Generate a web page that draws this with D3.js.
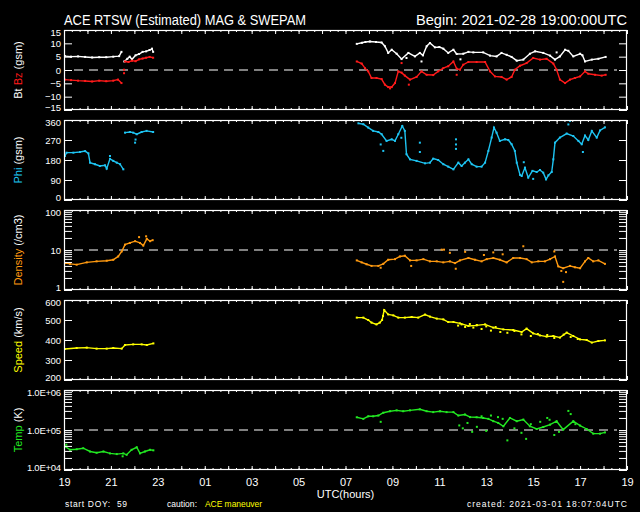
<!DOCTYPE html>
<html>
<head>
<meta charset="utf-8">
<script src="https://cdn.jsdelivr.net/npm/d3@7"></script>
<style>
  body { margin: 0; background: #000; }
  svg { display: block; }
  text { font-family: "Liberation Sans", Arial, sans-serif; fill: #fff; }
</style>
</head>
<body>
<svg id="chart" width="640" height="512"></svg>
<script>
// time is hours after 2021-02-28 19:00 UTC; null breaks a trace
const hourLabels = ["19", "21", "23", "01", "03", "05", "07", "09", "11", "13", "15", "17", "19"];
const btTicks = [-15, -10, -5, 0, 5, 10, 15];
const phiTicks = [0, 90, 180, 270, 360];
const speedTicks = [200, 300, 400, 500, 600];
const densityTicks = [1, 2, 3, 4, 5, 6, 7, 8, 9, 10, 20, 30, 40, 50, 60, 70, 80, 90, 100];
const tempTicks = [1e4, 2e4, 3e4, 4e4, 5e4, 6e4, 7e4, 8e4, 9e4, 1e5, 2e5, 3e5, 4e5, 5e5, 6e5, 7e5, 8e5, 9e5, 1e6];

const btData = [
  [0.04, 5.2], [0.3, 5.0], [0.6, 5.1], [0.9, 4.9], [1.2, 4.7], [1.5, 4.8], [1.8, 4.8], [2.1, 5.0], [2.35, 5.2], [2.45, 6.8], null,
  [2.57, 3.2], [2.7, 4.2], [2.8, 5.0], [2.9, 4.0], [3.05, 5.5], [3.2, 6.0], [3.35, 6.8], [3.5, 7.0], [3.65, 7.5], [3.75, 8.0], [3.8, 6.8], null,
  [12.48, 9.8], [12.7, 10.2], [12.85, 10.5], [13.04, 10.7], [13.3, 10.5], [13.54, 10.3], [13.68, 8.9], [13.82, 6.4], [13.97, 7.6],
  [14.18, 6.1], [14.39, 4.1], [14.68, 6.4], [14.96, 5.1], [15.17, 6.4], [15.3, 5.5], [15.46, 8.9], [15.6, 10.1], [15.81, 8.5],
  [16.0, 8.6], [16.17, 8.0], [16.38, 6.4], [16.6, 7.6], [16.74, 6.0], [17.02, 6.1], [17.24, 6.8], [17.45, 6.6], [17.87, 6.6],
  [18.16, 5.4], [18.44, 5.1], [18.65, 6.4], [18.87, 5.7], [19.08, 4.9], [19.3, 3.5], [19.58, 3.9], [19.86, 6.1], [20.08, 7.0],
  [20.43, 6.4], [20.72, 5.4], [20.93, 3.9], [21.14, 5.1], [21.36, 7.6], [21.5, 7.2], [21.71, 5.1], [22.0, 6.1], [22.1, 5.5],
  [22.21, 3.2], [22.5, 3.9], [22.78, 4.2], [23.09, 4.9]
];
const btScatter = [[15.24, 3.2], [14.6, 4.5], [16.9, 4.0], [21.0, 6.6]];

const bzData = [
  [0.04, -3.6], [0.3, -3.8], [0.6, -4.0], [0.9, -4.1], [1.2, -4.3], [1.5, -4.0], [1.8, -4.2], [2.1, -4.0], [2.3, -3.6], [2.45, -4.9], null,
  [2.6, 3.2], [2.75, 3.0], [2.9, 3.5], [3.05, 3.3], [3.2, 4.0], [3.35, 4.3], [3.5, 4.6], [3.65, 4.9], [3.8, 4.6], null,
  [12.48, 3.2], [12.69, 2.4], [12.83, 0.7], [12.97, -0.5], [13.11, -3.0], [13.32, -3.0], [13.54, -3.4], [13.68, -5.5], [13.82, -6.4],
  [13.97, -6.4], [14.11, -4.9], [14.25, -0.5], [14.39, -1.0], [14.53, -2.1], [14.75, -3.6], [15.03, -2.6], [15.24, -0.5],
  [15.46, -1.8], [15.74, -1.9], [15.95, -0.5], [16.17, 0.7], [16.38, 1.4], [16.6, 3.2], [16.74, 0.5], [16.88, 0.1], [17.02, 2.0],
  [17.24, 3.0], [17.59, 3.0], [17.95, 3.0], [18.16, -0.5], [18.37, -2.4], [18.65, -2.6], [18.87, -3.6], [19.08, -2.6], [19.22, 0.1],
  [19.44, 1.6], [19.72, 2.6], [20.0, 4.5], [20.29, 3.9], [20.57, 4.2], [20.86, 2.4], [21.0, 0.1], [21.14, -3.6], [21.36, -4.9],
  [21.57, -3.6], [21.78, -3.0], [22.0, -2.4], [22.21, -0.5], [22.35, -1.4], [22.64, -1.8], [22.92, -2.1], [23.09, -1.8]
];
const bzScatter = [[2.56, 0.1], [2.56, -1.2], [14.39, 2.6], [16.74, -1.8], [14.7, -5.5], [13.9, -6.9]];

const phiData = [
  [0.04, 198], [0.11, 213], [0.4, 213], [0.68, 216], [0.9, 220], [1.04, 210], [1.11, 168], [1.32, 161], [1.53, 153], [1.75, 156],
  [1.82, 141], [1.96, 185], [2.1, 176], [2.25, 168], [2.39, 161], [2.53, 138], null,
  [2.6, 303], [2.81, 306], [2.95, 303], [3.1, 296], [3.31, 306], [3.52, 311], [3.8, 306], null,
  [12.55, 345], [12.76, 341], [12.97, 326], [13.18, 311], [13.4, 306], [13.54, 296], [13.75, 266], [13.97, 273], [14.11, 266],
  [14.25, 296], [14.42, 333], [14.53, 311], [14.6, 206], [14.75, 183], [15.03, 176], [15.39, 165], [15.6, 168], [15.74, 186],
  [15.95, 180], [16.17, 161], [16.38, 150], [16.6, 138], [16.81, 168], [16.95, 153], [17.09, 168], [17.24, 183], [17.38, 161],
  [17.59, 150], [17.8, 150], [17.95, 168], [18.09, 221], [18.23, 281], [18.33, 326], [18.44, 303], [18.58, 266], [18.8, 273],
  [18.94, 270], [19.08, 251], [19.22, 221], [19.3, 168], [19.44, 113], [19.51, 108], [19.65, 145], [19.79, 101], [19.97, 131],
  [20.15, 126], [20.29, 135], [20.43, 123], [20.55, 93], [20.65, 111], [20.79, 126], [20.86, 183], [20.93, 258], [21.14, 281],
  [21.43, 299], [21.71, 288], [21.93, 266], [22.07, 251], [22.21, 290], [22.35, 270], [22.5, 311], [22.71, 281], [22.85, 313],
  [23.06, 327]
];
const phiScatter = [
  [1.96, 198], [3.03, 258], [3.05, 272], [13.61, 221], [13.5, 250], [14.38, 280], [15.17, 216], [15.17, 258],
  [16.71, 273], [16.71, 250], [16.71, 230], [21.57, 356], [21.5, 340], [22.12, 216], [19.6, 170], [20.0, 95]
];

const densityData = [
  [0.04, 4.7], [0.26, 4.5], [0.54, 4.3], [0.97, 4.9], [1.39, 5.2], [1.82, 5.4], [2.1, 5.7], [2.31, 6.9], [2.46, 9.2],
  [2.6, 13.6], [2.81, 15], [3.03, 16.6], [3.24, 15], [3.38, 12.9], [3.53, 19], [3.67, 16.6], [3.78, 17.6], null,
  [12.48, 5.5], [12.69, 4.9], [12.9, 4.4], [13.11, 4.0], [13.4, 4.0], [13.61, 4.5], [13.82, 5.7], [14.11, 5.9], [14.32, 6.9],
  [14.53, 7.2], [14.75, 5.5], [15.03, 5.5], [15.32, 5.9], [15.6, 5.2], [15.89, 5.2], [16.17, 4.9], [16.45, 5.2], [16.67, 4.7],
  [16.88, 5.5], [17.24, 6.3], [17.52, 5.7], [17.8, 5.2], [18.02, 5.9], [18.3, 6.3], [18.58, 5.7], [18.87, 4.9], [19.15, 6.3],
  [19.44, 6.3], [19.72, 5.9], [19.94, 4.9], [20.22, 5.2], [20.5, 5.2], [20.72, 5.9], [20.93, 6.9], [21.07, 3.9], [21.28, 3.5],
  [21.57, 4.0], [21.78, 3.7], [22.0, 3.5], [22.21, 5.2], [22.35, 6.3], [22.56, 5.2], [22.78, 5.5], [23.06, 4.5]
];
const densityScatter = [
  [3.2, 21], [3.5, 22], [16.1, 10.2], [16.2, 10.2], [16.45, 8.5], [17.1, 9], [18.3, 8.7], [19.58, 12.4], [20.9, 9.2],
  [21.2, 3.0], [21.28, 1.6], [21.4, 2.8], [16.7, 3.4], [14.8, 4.0], [13.5, 3.6], [17.9, 7.5], [18.7, 7.8]
];

const speedData = [
  [0.04, 355], [0.54, 360], [0.97, 362], [1.39, 357], [1.82, 357], [2.1, 360], [2.46, 357], [2.6, 375], [2.95, 378],
  [3.31, 378], [3.53, 375], [3.81, 383], null,
  [12.48, 512], [12.76, 512], [12.97, 500], [13.11, 487], [13.32, 478], [13.46, 487], [13.56, 500], [13.65, 550], [13.82, 528],
  [14.04, 523], [14.25, 512], [14.53, 512], [14.82, 515], [15.1, 512], [15.39, 527], [15.6, 517], [15.89, 507], [16.17, 503],
  [16.38, 490], [16.6, 490], [16.88, 483], [17.24, 470], [17.59, 473], [17.95, 478], [18.3, 462], [18.73, 453], [19.15, 450],
  [19.51, 440], [19.72, 457], [20.0, 433], [20.29, 423], [20.57, 417], [20.86, 420], [21.14, 412], [21.43, 437], [21.71, 420],
  [22.0, 403], [22.28, 400], [22.5, 387], [22.78, 395], [23.06, 398]
];
const speedScatter = [
  [13.6, 520], [16.8, 472], [16.95, 478], [17.1, 465], [17.3, 480], [17.45, 462], [17.6, 475], [17.8, 455], [18.0, 468],
  [18.2, 447], [18.4, 465], [18.6, 440], [18.9, 436], [19.2, 445], [19.5, 428], [19.9, 420], [20.2, 430], [20.6, 425],
  [20.9, 410], [21.3, 427], [21.6, 415], [21.9, 405]
];

const tempData = [
  [0.04, 3.9e4], [0.26, 3.2e4], [0.54, 3.3e4], [0.82, 3.5e4], [1.11, 2.9e4], [1.39, 2.7e4], [1.68, 2.9e4], [1.96, 2.6e4],
  [2.25, 2.5e4], [2.53, 2.6e4], [2.67, 2.4e4], [2.88, 3.2e4], [3.1, 3.7e4], [3.24, 2.6e4], [3.45, 2.9e4], [3.67, 3.2e4],
  [3.81, 3.1e4], null,
  [12.48, 2.08e5], [12.76, 1.9e5], [12.97, 2.2e5], [13.18, 2.2e5], [13.4, 2.3e5], [13.61, 2.7e5], [13.9, 2.95e5], [14.18, 3.1e5],
  [14.46, 2.95e5], [14.75, 3.1e5], [15.17, 3.3e5], [15.46, 2.95e5], [15.74, 2.8e5], [16.03, 2.95e5], [16.31, 2.8e5],
  [16.6, 2.8e5], [16.81, 2.3e5], [17.09, 2.44e5], [17.31, 2.1e5], [17.59, 2.08e5], [17.87, 2.0e5], [18.09, 1.9e5],
  [18.3, 1.66e5], [18.51, 1.5e5], [18.73, 1.24e5], [19.01, 2.0e5], [19.3, 1.66e5], [19.58, 1.82e5], [19.86, 1.24e5],
  [20.15, 1.06e5], [20.43, 1.19e5], [20.72, 1.36e5], [21.0, 1.66e5], [21.28, 1.02e5], [21.71, 1.66e5], [22.0, 1.29e5],
  [22.28, 1.06e5], [22.56, 8.1e4], [22.85, 8.1e4], [23.06, 8.7e4]
];
const tempScatter = [
  [0.1, 4.3e4], [2.5, 2.2e4], [13.5, 1.6e5], [16.85, 1.3e5], [17.0, 1.1e5], [17.2, 1.5e5], [17.4, 9e4], [17.6, 1.2e5],
  [17.8, 2.2e5], [18.0, 9.5e4], [18.2, 2.3e5], [18.5, 2.1e5], [18.7, 1.9e5], [18.9, 5.5e4], [19.2, 1.1e5], [19.5, 8.5e4],
  [19.7, 6e4], [19.9, 1.4e5], [20.3, 1.6e5], [20.6, 2e5], [20.7, 1.8e5], [20.9, 7.5e4], [21.1, 9e4], [21.5, 3e5],
  [21.6, 2.5e5], [21.8, 1.4e5]
];

const svg = d3.select("#chart");
svg.append("rect").attr("width", 640).attr("height", 512).attr("fill", "#000");

const x = d3.scaleLinear().domain([0, 24]).range([64, 627]);
const panelH = 80;
const tickFont = "9.5px";

const panels = [
  { top: 30, y: d3.scaleLinear().domain([-15, 15]), ticks: btTicks, fmt: d3.format("d"), dash: 0,
    label: [["Bt ", "#fff"], ["Bz", "#ff1a1a"], [" (gsm)", "#fff"]],
    series: [[btData, btScatter, "#ffffff"], [bzData, bzScatter, "#ff1a1a"]] },
  { top: 120, y: d3.scaleLinear().domain([0, 360]), ticks: phiTicks, fmt: d3.format("d"), dash: null,
    label: [["Phi", "#1ec4f2"], [" (gsm)", "#fff"]],
    series: [[phiData, phiScatter, "#1ec4f2"]] },
  { top: 210, y: d3.scaleLog().domain([1, 100]), ticks: densityTicks,
    fmt: d => ([1, 10, 100].includes(d) ? String(d) : ""), dash: 10,
    label: [["Density", "#ff9a10"], [" (/cm3)", "#fff"]],
    series: [[densityData, densityScatter, "#ff9a10"]] },
  { top: 300, y: d3.scaleLinear().domain([200, 600]), ticks: speedTicks, fmt: d3.format("d"), dash: null,
    label: [["Speed", "#ffff00"], [" (km/s)", "#fff"]],
    series: [[speedData, speedScatter, "#ffff00"]] },
  { top: 390, y: d3.scaleLog().domain([1e4, 1e6]), ticks: tempTicks,
    fmt: d => ([1e4, 1e5, 1e6].includes(d) ? "1.0E+0" + Math.round(Math.log10(d)) : ""), dash: 1e5,
    label: [["Temp", "#22e822"], [" (K)", "#fff"]],
    series: [[tempData, tempScatter, "#22e822"]] }
];

const minorTimes = d3.range(0, 24.01, 1 / 3);
const hourTimes = d3.range(0, 25, 1);

panels.forEach((p, i) => {
  const bottom = p.top + panelH;
  p.y.range([bottom, p.top]);
  const g = svg.append("g").attr("class", "panel");
  const [lo, hi] = p.y.domain();

  const clipId = "clip" + i;
  svg.append("clipPath").attr("id", clipId)
    .append("rect").attr("x", x.range()[0]).attr("y", p.top).attr("width", x.range()[1] - x.range()[0]).attr("height", panelH);

  // reference dashed line
  if (p.dash !== null) {
    g.append("line")
      .attr("x1", x.range()[0] + 10).attr("x2", x.range()[1] - 10)
      .attr("y1", p.y(p.dash)).attr("y2", p.y(p.dash))
      .attr("stroke", "#fff").attr("stroke-width", 1.2).attr("stroke-dasharray", "9,6");
  }

  // data
  const plot = g.append("g").attr("clip-path", `url(#${clipId})`);
  const line = d3.line().defined(d => d !== null).x(d => x(d[0])).y(d => p.y(d[1]));
  p.series.forEach(([trace, scatter, color]) => {
    plot.append("path").datum(trace)
      .attr("d", line).attr("fill", "none").attr("stroke", color).attr("stroke-width", 1.4);
    plot.selectAll(null).data(trace.filter(d => d !== null).concat(scatter)).join("rect")
      .attr("x", d => x(d[0]) - 1).attr("y", d => p.y(d[1]) - 1)
      .attr("width", 2).attr("height", 2).attr("fill", color);
  });

  // left axis with inward ticks; end labels nudged inside the panel
  const left = g.append("g").attr("transform", `translate(${x.range()[0]},0)`)
    .call(d3.axisLeft(p.y).tickValues(p.ticks).tickFormat(p.fmt).tickSize(-8).tickPadding(3));
  left.select(".domain").remove();
  left.selectAll("line").attr("stroke", "#fff");
  left.selectAll("text").attr("fill", "#fff").style("font-size", tickFont)
    .style("font-family", "Liberation Sans, Arial, sans-serif")
    .attr("y", d => (d === hi ? 2.5 : d === lo ? -2.5 : 0));
  if (i === 4) left.selectAll("text").filter(function () { return this.textContent; }).attr("textLength", 34);

  const right = g.append("g").attr("transform", `translate(${x.range()[1]},0)`)
    .call(d3.axisRight(p.y).tickValues(p.ticks).tickFormat("").tickSize(-8));
  right.select(".domain").remove();
  right.selectAll("line").attr("stroke", "#fff");

  // time ticks on top and bottom edges
  [[p.top, d3.axisBottom], [bottom, d3.axisTop]].forEach(([yy, axisFn]) => {
    [[minorTimes, 2], [hourTimes, 4]].forEach(([vals, len]) => {
      const a = g.append("g").attr("transform", `translate(0,${yy})`)
        .call(axisFn(x).tickValues(vals).tickFormat("").tickSize(len));
      a.select(".domain").remove();
      a.selectAll("line").attr("stroke", "#fff");
    });
  });

  // frame
  g.append("rect")
    .attr("x", x.range()[0] + 0.5).attr("y", p.top + 0.5)
    .attr("width", x.range()[1] - x.range()[0] - 1).attr("height", panelH - 1)
    .attr("fill", "none").attr("stroke", "#fff").attr("stroke-width", 1.2);

  // rotated y label
  const lbl = g.append("text")
    .attr("transform", `translate(21.5,${p.top + panelH / 2}) rotate(-90)`)
    .attr("text-anchor", "middle").attr("xml:space", "preserve").style("font-size", "11px");
  p.label.forEach(([s, c]) => lbl.append("tspan").text(s).attr("fill", c));
});

// bottom time labels
const xl = svg.append("g").attr("transform", "translate(0,470)")
  .call(d3.axisBottom(x).tickValues(d3.range(0, 25, 2)).tickFormat((d, i) => hourLabels[i]).tickSize(0).tickPadding(8));
xl.select(".domain").remove();
xl.selectAll("text").attr("fill", "#fff").style("font-size", "11px")
  .style("font-family", "Liberation Sans, Arial, sans-serif");

svg.append("text").attr("x", d3.mean(x.range())).attr("y", 498).attr("text-anchor", "middle")
  .style("font-size", "11px").text("UTC(hours)");

// header
svg.append("text").attr("x", 64).attr("y", 25).style("font-size", "14px")
  .attr("textLength", 242).attr("lengthAdjust", "spacingAndGlyphs")
  .text("ACE RTSW (Estimated) MAG & SWEPAM");
svg.append("text").attr("x", 416).attr("y", 25).style("font-size", "14px")
  .attr("textLength", 211).attr("lengthAdjust", "spacingAndGlyphs")
  .text("Begin: 2021-02-28 19:00:00UTC");

// footer
svg.append("text").attr("x", 65).attr("y", 507).style("font-size", "8.5px")
  .attr("xml:space", "preserve").attr("textLength", 62).text("start DOY:  59");
svg.append("text").attr("x", 167).attr("y", 507).style("font-size", "8.5px")
  .attr("textLength", 30).text("caution:");
svg.append("text").attr("x", 205).attr("y", 507).style("font-size", "8.5px")
  .attr("textLength", 57).style("fill", "#ffff00").text("ACE maneuver");
svg.append("text").attr("x", 627).attr("y", 507).attr("text-anchor", "end").style("font-size", "8.5px")
  .attr("textLength", 160).text("created: 2021-03-01 18:07:04UTC");
</script>
</body>
</html>
